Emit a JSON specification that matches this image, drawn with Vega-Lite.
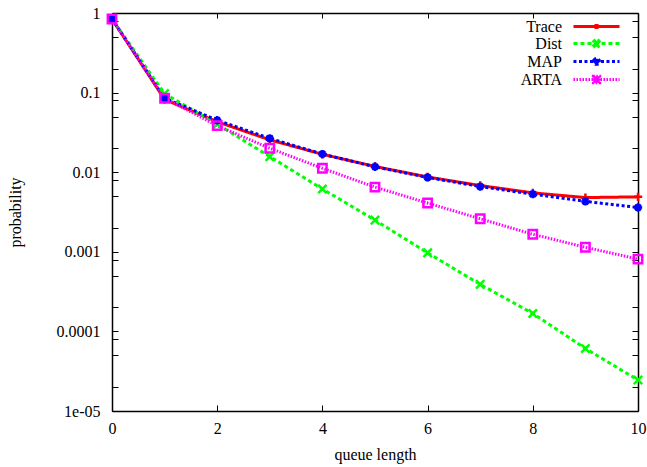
{
  "$schema": "https://vega.github.io/schema/vega-lite/v6.json",
  "width": 526,
  "height": 398,
  "autosize": "none",
  "padding": {"left": 112, "top": 13, "right": 9, "bottom": 56},
  "background": "white",
  "config": {
    "view": {"stroke": null},
    "font": "Liberation Serif, Times New Roman, DejaVu Serif, serif",
    "axis": {
      "grid": false,
      "domainColor": "black",
      "domainWidth": 1.5,
      "tickColor": "black",
      "tickWidth": 1,
      "labelFont": "Liberation Serif, Times New Roman, DejaVu Serif, serif",
      "labelFontSize": 16,
      "labelColor": "black",
      "titleFont": "Liberation Serif, Times New Roman, DejaVu Serif, serif",
      "titleFontSize": 16,
      "titleFontWeight": "normal",
      "titleColor": "black",
      "labelFlush": false,
      "labelOverlap": false
    },
    "legend": {
      "labelFont": "Liberation Serif, Times New Roman, DejaVu Serif, serif"
    }
  },
  "data": {
    "values": [
      {"q": 0, "series": "Trace", "p": 0.84},
      {"q": 1, "series": "Trace", "p": 0.082},
      {"q": 2, "series": "Trace", "p": 0.043},
      {"q": 3, "series": "Trace", "p": 0.0255},
      {"q": 4, "series": "Trace", "p": 0.0168},
      {"q": 5, "series": "Trace", "p": 0.0118},
      {"q": 6, "series": "Trace", "p": 0.0087},
      {"q": 7, "series": "Trace", "p": 0.0068},
      {"q": 8, "series": "Trace", "p": 0.0055},
      {"q": 9, "series": "Trace", "p": 0.0048},
      {"q": 10, "series": "Trace", "p": 0.0049},
      {"q": 0, "series": "Dist", "p": 0.84},
      {"q": 1, "series": "Dist", "p": 0.097},
      {"q": 2, "series": "Dist", "p": 0.040},
      {"q": 3, "series": "Dist", "p": 0.0157},
      {"q": 4, "series": "Dist", "p": 0.00615},
      {"q": 5, "series": "Dist", "p": 0.0025},
      {"q": 6, "series": "Dist", "p": 0.00097},
      {"q": 7, "series": "Dist", "p": 0.00039},
      {"q": 8, "series": "Dist", "p": 0.000168},
      {"q": 9, "series": "Dist", "p": 0.000061},
      {"q": 10, "series": "Dist", "p": 0.0000245},
      {"q": 0, "series": "MAP", "p": 0.84},
      {"q": 1, "series": "MAP", "p": 0.085},
      {"q": 2, "series": "MAP", "p": 0.045},
      {"q": 3, "series": "MAP", "p": 0.0266},
      {"q": 4, "series": "MAP", "p": 0.0169},
      {"q": 5, "series": "MAP", "p": 0.0117},
      {"q": 6, "series": "MAP", "p": 0.0086},
      {"q": 7, "series": "MAP", "p": 0.0066},
      {"q": 8, "series": "MAP", "p": 0.0053},
      {"q": 9, "series": "MAP", "p": 0.0043},
      {"q": 10, "series": "MAP", "p": 0.0036},
      {"q": 0, "series": "ARTA", "p": 0.84},
      {"q": 1, "series": "ARTA", "p": 0.085},
      {"q": 2, "series": "ARTA", "p": 0.0384},
      {"q": 3, "series": "ARTA", "p": 0.020},
      {"q": 4, "series": "ARTA", "p": 0.0112},
      {"q": 5, "series": "ARTA", "p": 0.0065},
      {"q": 6, "series": "ARTA", "p": 0.0041},
      {"q": 7, "series": "ARTA", "p": 0.0026},
      {"q": 8, "series": "ARTA", "p": 0.00166},
      {"q": 9, "series": "ARTA", "p": 0.00114},
      {"q": 10, "series": "ARTA", "p": 0.00081}
    ]
  },
  "layer": [
    {
      "mark": {"type": "line", "strokeWidth": 3, "clip": false},
      "encoding": {
        "x": {
          "field": "q", "type": "quantitative",
          "scale": {"domain": [0, 10], "nice": false, "zero": false},
          "axis": {
            "orient": "bottom",
            "values": [0, 2, 4, 6, 8, 10],
            "tickSize": -6,
            "labelPadding": 15,
            "title": "queue length",
            "titlePadding": 10
          }
        },
        "y": {
          "field": "p", "type": "quantitative",
          "scale": {"type": "log", "domain": [0.00001, 1], "nice": false},
          "axis": {
            "orient": "left",
            "values": [1, 0.8, 0.5, 0.2, 0.1, 0.08, 0.05, 0.02, 0.01, 0.008, 0.005, 0.002, 0.001, 0.0008, 0.0005, 0.0002, 0.0001, 0.00008, 0.00005, 0.00002, 0.00001],
            "labelExpr": "datum.value == 1 ? '1' : datum.value == 0.1 ? '0.1' : datum.value == 0.01 ? '0.01' : datum.value == 0.001 ? '0.001' : datum.value == 0.0001 ? '0.0001' : datum.value == 0.00001 ? '1e-05' : ''",
            "tickSize": -6,
            "labelPadding": 18,
            "title": "probability",
            "titlePadding": 33,
            "encode": {
              "ticks": {
                "update": {
                  "x2": {"signal": "indexof([1,0.1,0.01,0.001,0.0001,0.00001], datum.value) >= 0 ? 6 : 3"}
                }
              }
            }
          }
        },
        "color": {
          "field": "series", "type": "nominal", "sort": null,
          "scale": {"range": ["#ff0000", "#00ff00", "#0000ff", "#ff00ff"]},
          "legend": {
            "title": null,
            "orient": "none",
            "legendX": 476,
            "legendY": 5,
            "padding": 0,
            "symbolType": "stroke",
            "symbolSize": 196,
            "symbolStrokeWidth": 3,
            "rowPadding": -1.3,
            "labelAlign": "right",
            "labelOffset": -43,
            "labelFont": "Liberation Serif, Times New Roman, DejaVu Serif, serif",
            "labelFontSize": 16,
            "labelColor": "black",
            "labelLimit": 0,
            "encode": {
              "symbols": {
                "update": {
                  "shape": {"signal": "datum.value == 'Trace' ? 'M-3.29,0H3.29M-0.15,-0.05H0.15V0.05H-0.15ZM-0.05,-0.15H0.05V0.15H-0.05Z' : datum.value == 'Dist' ? 'M-3.29,0H3.29M-0.3,-0.4L0.4,0.3L0.3,0.4L-0.4,-0.3ZM-0.3,0.4L-0.4,0.3L0.3,-0.4L0.4,-0.3Z' : datum.value == 'MAP' ? 'M-3.29,0H3.29M-0.4,-0.17L-0.17,-0.4H0.17L0.4,-0.17V0.17L0.17,0.4H-0.17L-0.4,0.17Z' : 'M-3.29,0H3.29M-0.45,-0.45H0.45V0.45H-0.45Z'"},
                  "fill": {"signal": "datum.value == 'Trace' ? '#ff0000' : datum.value == 'Dist' ? '#00ff00' : datum.value == 'MAP' ? '#0000ff' : '#ff00ff'"},
                  "stroke": {"signal": "datum.value == 'Trace' ? '#ff0000' : datum.value == 'Dist' ? '#00ff00' : datum.value == 'MAP' ? '#0000ff' : '#ff00ff'"},
                  "strokeDash": {"signal": "datum.value == 'Trace' ? [1,0] : datum.value == 'Dist' ? [4,3] : datum.value == 'MAP' ? [3,2.5] : [1.5,1.5]"},
                  "opacity": {"value": 1}
                }
              }
            }
          }
        },
        "strokeDash": {
          "field": "series", "type": "nominal", "sort": null,
          "scale": {"range": [[1, 0], [4, 3], [3, 2.5], [1.5, 1.5]]},
          "legend": null
        }
      }
    },
    {
      "mark": {"type": "point", "filled": false, "strokeWidth": 2.5, "size": 70, "opacity": 1, "clip": false},
      "encoding": {
        "x": {
          "field": "q", "type": "quantitative",
          "axis": {
            "orient": "top",
            "values": [0, 2, 4, 6, 8, 10],
            "tickSize": -5,
            "labels": false,
            "title": null
          }
        },
        "y": {
          "field": "p", "type": "quantitative",
          "axis": {
            "orient": "right",
            "values": [1, 0.8, 0.5, 0.2, 0.1, 0.08, 0.05, 0.02, 0.01, 0.008, 0.005, 0.002, 0.001, 0.0008, 0.0005, 0.0002, 0.0001, 0.00008, 0.00005, 0.00002, 0.00001],
            "tickSize": -6,
            "labels": false,
            "title": null,
            "encode": {
              "ticks": {
                "update": {
                  "x2": {"signal": "indexof([1,0.1,0.01,0.001,0.0001,0.00001], datum.value) >= 0 ? -6 : -3"}
                }
              }
            }
          }
        },
        "color": {"field": "series", "type": "nominal", "sort": null, "legend": null},
        "shape": {
          "field": "series", "type": "nominal",
          "scale": {
            "domain": ["Trace", "Dist", "MAP", "ARTA"],
            "range": [
              "M-1,0H1M0,-1V1",
              "M-1,-1L1,1M-1,1L1,-1",
              "M-1,0H1M0,-1V1M-0.7,-0.7L0.7,0.7M-0.7,0.7L0.7,-0.7",
              "M-1,-1H1V1H-1Z"
            ]
          },
          "legend": null
        }
      }
    }
  ],
  "resolve": {"axis": {"x": "independent", "y": "independent"}}
}
